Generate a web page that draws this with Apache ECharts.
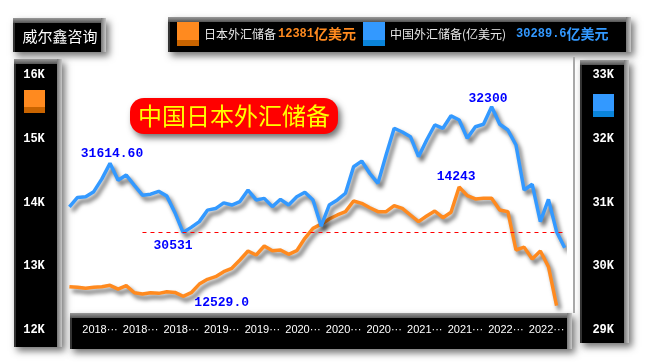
<!DOCTYPE html>
<html>
<head>
<meta charset="utf-8">
<style>html,body{margin:0;padding:0;background:#fff;}#main{width:650px;height:362px;}</style>
<script src="https://cdn.jsdelivr.net/npm/echarts/dist/echarts.min.js"></script>
</head>
<body>
<div id="main"></div>
<script>
const categories = [
 '2017-08','2017-09','2017-10','2017-11','2017-12',
 '2018-01','2018-02','2018-03','2018-04','2018-05','2018-06','2018-07','2018-08','2018-09','2018-10','2018-11','2018-12',
 '2019-01','2019-02','2019-03','2019-04','2019-05','2019-06','2019-07','2019-08','2019-09','2019-10','2019-11','2019-12',
 '2020-01','2020-02','2020-03','2020-04','2020-05','2020-06','2020-07','2020-08','2020-09','2020-10','2020-11','2020-12',
 '2021-01','2021-02','2021-03','2021-04','2021-05','2021-06','2021-07','2021-08','2021-09','2021-10','2021-11','2021-12',
 '2022-01','2022-02','2022-03','2022-04','2022-05','2022-06','2022-07','2022-08','2022-09'
];
const chinaReserves = [
 30930,31080,31090,31170,31370,
 31614.6,31350,31430,31270,31115,31130,31175,31100,30840,30531,30610,30700,
 30880,30905,30995,30960,31015,31195,31040,31065,30935,31050,30960,31090,
 31160,31040,30630,30960,31040,31145,31560,31650,31455,31300,31745,32165,
 32106,32032,31719,31980,32216,32164,32361,32294,32007,32189,32227,32503,
 32227,32137,31902,31196,31286,30699,31050,30542,30289.6
];
const japanReserves = [
 12680,12669,12654,12669,12680,
 12701,12640,12695,12585,12565,12585,12575,12600,12590,12529,12585,12720,
 12795,12836,12915,12968,13098,13239,13176,13318,13244,13255,13187,13244,
 13438,13595,13660,13741,13804,13856,14024,13987,13918,13856,13856,13950,
 13909,13804,13699,13788,13867,13762,13846,14243,14107,14055,14066,14066,
 13882,13856,13255,13300,13114,13239,12993,12381
];
const leftTicks = [12000,13000,14000,15000,16000];
const rightTicks = [29000,30000,31000,32000,33000];
const annotationTexts = ['31614.60','30531','12529.0','14243','32300'];
const seriesNames = ['日本外汇储备','中国外汇储备(亿美元)'];
const unitText = '亿美元';

const ORANGE = '#ff8a1f', BLUE = '#3399ff';
const ORANGE_DK = '#c96400', BLUE_DK = '#0a84db';
const MONO = '"Liberation Mono","DejaVu Sans Mono",monospace';
const CJK = '"Noto Sans CJK SC","Noto Sans",sans-serif';

function bevelBox(x, y, w, h) {
  return [
    {type:'rect', z:1, shape:{x:x, y:y, width:w, height:h},
     style:{fill:'#333', shadowBlur:7, shadowColor:'rgba(0,0,0,0.55)', shadowOffsetX:3, shadowOffsetY:4}},
    {type:'rect', z:1, shape:{x:x, y:y, width:w, height:5},
     style:{fill:new echarts.graphic.LinearGradient(0,0,0,1,[{offset:0,color:'#9a9a9a'},{offset:1,color:'#555'}])}},
    {type:'rect', z:1, shape:{x:x+w-5, y:y, width:5, height:h},
     style:{fill:new echarts.graphic.LinearGradient(0,0,1,0,[{offset:0,color:'#777'},{offset:1,color:'#c8c8c8'}])}},
    {type:'rect', z:1, shape:{x:x+2, y:y+5, width:w-7, height:h-5}, style:{fill:'#000'}}
  ];
}
function keyFill(c, dk) {
  return new echarts.graphic.LinearGradient(0,0,0,1,[
    {offset:0,color:c},{offset:0.76,color:c},{offset:0.76,color:dk},{offset:1,color:dk}]);
}

const chart = echarts.init(document.getElementById('main'));
const jpLast = japanReserves[japanReserves.length-1];
const cnLast = chinaReserves[chinaReserves.length-1];

const graphics = [].concat(
  bevelBox(13, 18, 93, 34),
  bevelBox(168, 17, 463, 35),
  bevelBox(14, 59, 48, 288),
  bevelBox(580, 60, 49, 283),
  bevelBox(70, 313, 502, 36),
  [
    {type:'rect', z:1, shape:{x:573, y:57, width:2, height:256}, style:{fill:'#a8a8a8'}},
    {type:'text', z:3, style:{text:'威尔鑫咨询', x:60, y:36, fill:'#fff', font:'15px ' + CJK, textAlign:'center', textVerticalAlign:'middle'}},
    {type:'rect', z:3, shape:{x:24, y:90, width:21, height:23}, style:{fill:keyFill(ORANGE, ORANGE_DK)}},
    {type:'rect', z:3, shape:{x:593, y:94, width:21, height:23}, style:{fill:keyFill(BLUE, BLUE_DK)}}
  ]
);

const option = {
  animation: false,
  backgroundColor: '#ffffff',
  title: {
    text: '中国日本外汇储备',
    left: 130, top: 98,
    padding: [5, 8, 5, 8],
    backgroundColor: '#ff0000',
    borderRadius: 14,
    shadowBlur: 6, shadowColor: 'rgba(0,0,0,0.55)', shadowOffsetX: 3, shadowOffsetY: 4,
    textStyle: {color:'#ffff00', fontSize:24, fontWeight:'normal', fontFamily:CJK, lineHeight:26},
    z: 8
  },
  legend: {
    data: [
      {name: seriesNames[0], itemStyle: {color: keyFill(ORANGE, ORANGE_DK)}},
      {name: seriesNames[1], itemStyle: {color: keyFill(BLUE, BLUE_DK)}}
    ],
    left: 177, top: 22, padding: 0,
    orient: 'horizontal',
    itemWidth: 22, itemHeight: 24, itemGap: 7,
    icon: 'rect',
    z: 20,
    formatter: function (name) {
      if (name === seriesNames[0]) return '{a|' + name + '}{b|' + jpLast + '}{c|' + unitText + '}';
      return '{a|' + name + '}{d|' + cnLast + '}{e|' + unitText + '}';
    },
    textStyle: {
      rich: {
        a: {color:'#e8e8e8', fontSize:12, fontFamily:CJK},
        b: {color:ORANGE, fontSize:12, fontWeight:'bold', fontFamily:MONO, padding:[0,0,0,2]},
        c: {color:ORANGE, fontSize:14, fontWeight:'bold', fontFamily:CJK},
        d: {color:BLUE, fontSize:12, fontWeight:'bold', fontFamily:MONO, padding:[0,0,0,10]},
        e: {color:BLUE, fontSize:14, fontWeight:'bold', fontFamily:CJK}
      }
    }
  },
  graphic: {elements: graphics},
  grid: {left: 69.4, right: 85.3, top: 75, bottom: 32, containLabel: false},
  xAxis: {
    type: 'category', data: categories, boundaryGap: false, z: 10,
    axisLine: {show:false}, axisTick: {show:false}, splitLine: {show:false},
    axisLabel: {
      color: '#fff', fontSize: 11, fontFamily: '"Liberation Sans",Arial,sans-serif',
      margin: 0, verticalAlign: 'middle', padding: [0, 20, 0, 0],
      interval: function (i) { return i > 0 && i % 5 === 0; },
      formatter: function (v) { return v.slice(0, 4) + '···'; }
    }
  },
  yAxis: [
    {type:'value', min:leftTicks[0], max:leftTicks[leftTicks.length-1], interval:1000, z:10,
     axisLine:{show:false}, axisTick:{show:false}, splitLine:{show:false},
     axisLabel:{color:'#fff', fontSize:12, fontWeight:'bold', fontFamily:MONO, align:'center', margin:35.4,
       formatter:function(v){return (v/1000) + 'K';}}},
    {type:'value', min:rightTicks[0], max:rightTicks[rightTicks.length-1], interval:1000, position:'right', z:10,
     axisLine:{show:false}, axisTick:{show:false}, splitLine:{show:false},
     axisLabel:{color:'#fff', fontSize:12, fontWeight:'bold', fontFamily:MONO, align:'center', margin:38.5,
       formatter:function(v){return (v/1000) + 'K';}}}
  ],
  series: [
    {
      name: seriesNames[0], type: 'line', yAxisIndex: 0, data: japanReserves,
      symbol: 'none', z: 3,
      itemStyle: {color: ORANGE},
      lineStyle: {color: ORANGE, width: 3.5, shadowBlur: 4, shadowColor: 'rgba(0,0,0,0.6)', shadowOffsetX: 3, shadowOffsetY: 4},
      markPoint: {
        symbol: 'circle', symbolSize: 1, itemStyle: {color: 'rgba(0,0,0,0)'}, silent: true,
        label: {show: true, position: 'inside', color: '#0000ff', fontSize: 13, fontWeight: 'bold', fontFamily: MONO},
        data: [
          {coord: [categories[14], japanReserves[14]], label: {formatter: annotationTexts[2], offset: [38.6, 6.4]}},
          {coord: [categories[48], japanReserves[48]], label: {formatter: annotationTexts[3], offset: [-3, -10]}}
        ]
      }
    },
    {
      name: seriesNames[1], type: 'line', yAxisIndex: 1, data: chinaReserves,
      symbol: 'none', z: 4,
      itemStyle: {color: BLUE},
      lineStyle: {color: BLUE, width: 3.5, shadowBlur: 4, shadowColor: 'rgba(0,0,0,0.6)', shadowOffsetX: 3, shadowOffsetY: 4},
      markLine: {
        silent: true, symbol: ['none', 'none'], label: {show: false},
        lineStyle: {color: '#ff0000', type: [4, 4], width: 1, shadowBlur: 0},
        data: [[{coord: [categories[9], chinaReserves[14]]}, {coord: [categories[categories.length-1], chinaReserves[14]]}]]
      },
      markPoint: {
        symbol: 'circle', symbolSize: 1, itemStyle: {color: 'rgba(0,0,0,0)'}, silent: true,
        label: {show: true, position: 'inside', color: '#0000ff', fontSize: 13, fontWeight: 'bold', fontFamily: MONO},
        data: [
          {coord: [categories[5], chinaReserves[5]], label: {formatter: annotationTexts[0], offset: [2, -10]}},
          {coord: [categories[14], chinaReserves[14]], label: {formatter: annotationTexts[1], offset: [-10, 13]}},
          {coord: [categories[52], chinaReserves[52]], label: {formatter: annotationTexts[4], offset: [-3.6, -8]}}
        ]
      }
    }
  ]
};
chart.setOption(option);
</script>
</body>
</html>
